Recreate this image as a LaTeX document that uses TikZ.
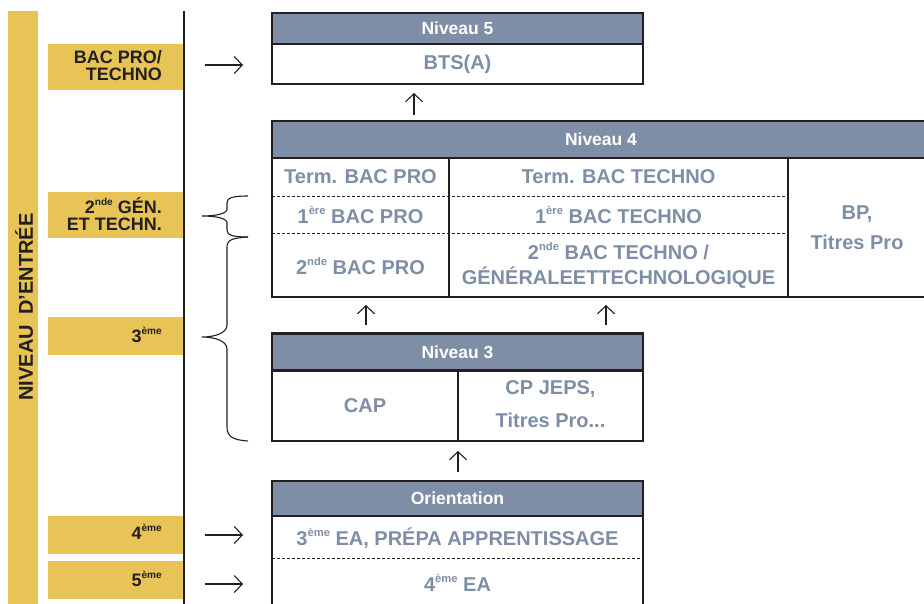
\documentclass[tikz,border=0pt]{standalone}
\usepackage{fontspec}
\setmainfont{Liberation Sans}
\usetikzlibrary{arrows.meta}
\definecolor{gold}{HTML}{E8C456}
\definecolor{slate}{HTML}{7F8EA7}
\definecolor{ink}{HTML}{231F20}
\newcommand\ex[1]{\raisebox{0.42em}{\scalebox{0.56}{#1}}}
\begin{document}
\begin{tikzpicture}[x=1pt,y=-1pt,
 lab/.style={fill=gold, minimum width=136pt, inner sep=0pt},
 labtxt/.style={text=ink, font=\bfseries\fontsize{18}{17}\selectfont, align=right, inner sep=0pt},
 hdr/.style={fill=slate, draw=ink, line width=2.4pt, text=white, font=\bfseries\fontsize{17.5}{20}\selectfont, inner sep=0pt},
 frame/.style={draw=ink, line width=2.4pt},
 sep/.style={draw=ink, line width=2pt},
 dsh/.style={draw=ink, line width=1pt, dash pattern=on 3pt off 2pt},
 txt/.style={text=slate, font=\bfseries\fontsize{20}{25}\selectfont, align=center, inner sep=0pt},
 arr/.style={draw=ink, line width=1.1pt, -{Straight Barb[length=8pt,width=17pt]}},
 brace/.style={draw=ink, line width=1.1pt},
]
\useasboundingbox (0,0) rectangle (924,604);
\clip (0,0) rectangle (924,604);

% left vertical band
\fill[gold] (8,11) rectangle (38,604);
\node[rotate=90, text=ink, font=\bfseries\fontsize{20}{24}\selectfont, inner sep=0pt] (entree) at (24,307) {NIVEAU\hspace{0.25em} D'ENTRÉE};

% left labels
\node[lab, minimum height=46pt] (l1) at (116,67) {};
\node[labtxt, anchor=east] (l1t) at (162,66) {BAC PRO/\\TECHNO};
\node[lab, minimum height=46pt] (l2) at (116,215) {};
\node[labtxt, anchor=east] (l2t) at (162,214) {2\ex{nde} GÉN.\\ET TECHN.};
\node[lab, minimum height=38pt] (l3) at (116,336) {};
\node[labtxt, anchor=base east] (l3t) at (162,342) {3\ex{ème}};
\node[lab, minimum height=38pt] (l4) at (116,535) {};
\node[labtxt, anchor=base east] (l4t) at (162,539) {4\ex{ème}};
\node[lab, minimum height=38pt] (l5) at (116,580) {};
\node[labtxt, anchor=base east] (l5t) at (162,586) {5\ex{ème}};

\draw[ink, line width=2pt] (184,11) -- (184,604);

% left arrows
\coordinate (a1s) at (205,65); \coordinate (a1e) at (243,65);
\coordinate (a4s) at (205,535); \coordinate (a4e) at (243,535);
\coordinate (a5s) at (205,584); \coordinate (a5e) at (243,584);
\draw[arr] (a1s) -- (a1e);
\draw[arr] (a4s) -- (a4e);
\draw[arr] (a5s) -- (a5e);

% braces
\draw[brace] (248,196) .. controls (232,196) and (227,198) .. (227,203) -- (227,209) .. controls (227,214) and (215,216) .. (202,216) .. controls (215,216) and (227,218) .. (227,223) -- (227,230) .. controls (227,235) and (232,237) .. (248,237);
\draw[brace] (248,237) .. controls (232,238) and (227,240) .. (227,247) -- (227,325) .. controls (227,333) and (215,337) .. (202,337) .. controls (215,337) and (227,341) .. (227,349) -- (227,427) .. controls (227,436) and (232,440) .. (248,441);

% Niveau 5
\draw[frame] (272,44) rectangle (643,84);
\node[hdr, minimum width=371pt, minimum height=31pt] (n5h) at (457.5,28.5) {Niveau 5};
\node[txt] (bts) at (457.5,64) {BTS(A)};

% Niveau 4
\draw[frame] (272,158) rectangle (935,297);
\node[hdr, minimum width=658pt, minimum height=37pt] (n4h) at (601,139.5) {Niveau 4};
\draw[sep] (449,158) -- (449,297);
\draw[sep] (788,158) -- (788,297);
\draw[dsh] (272,197) -- (788,197);
\draw[dsh] (272,234) -- (788,234);
\node[txt] (t4a) at (360.5,177) {Term. BAC PRO};
\node[txt] (t4b) at (360.5,215) {1\ex{ère} BAC PRO};
\node[txt] (t4c) at (360.5,266) {2\ex{nde} BAC PRO};
\node[txt] (t4d) at (618.5,177) {Term. BAC TECHNO};
\node[txt] (t4e) at (618.5,215) {1\ex{ère} BAC TECHNO};
\node[txt] (t4f) at (618.5,265.5) {2\ex{nde} BAC TECHNO /\\GÉNÉRALEETTECHNOLOGIQUE};
\node[txt, font=\bfseries\fontsize{20}{30}\selectfont] (t4g) at (857,228) {BP,\\Titres Pro};

% up arrows
\coordinate (u1s) at (414,115); \coordinate (u1e) at (414,93);
\coordinate (u2s) at (366,325); \coordinate (u2e) at (366,305);
\coordinate (u3s) at (606,325); \coordinate (u3e) at (606,305);
\coordinate (u4s) at (458,472); \coordinate (u4e) at (458,451);
\draw[arr] (u1s) -- (u1e);
\draw[arr] (u2s) -- (u2e);
\draw[arr] (u3s) -- (u3e);
\draw[arr] (u4s) -- (u4e);

% Niveau 3
\draw[frame] (272,371) rectangle (643,441);
\node[hdr, minimum width=371pt, minimum height=37pt] (n3h) at (457.5,352) {Niveau 3};
\draw[sep] (458,371) -- (458,441);
\node[txt] (cap) at (365,406) {CAP};
\node[txt, font=\bfseries\fontsize{20}{33}\selectfont] (cpj) at (550.5,404.5) {CP JEPS,\\Titres Pro...};

% Orientation
\draw[frame] (272,516) rectangle (643,620);
\node[hdr, minimum width=371pt, minimum height=35pt] (orh) at (457.5,498.5) {Orientation};
\draw[dsh] (272,558) -- (643,558);
\node[txt] (o1) at (457.5,538) {3\ex{ème} EA, PRÉPA APPRENTISSAGE};
\node[txt] (o2) at (457.5,583) {4\ex{ème} EA};
\end{tikzpicture}
\end{document}
